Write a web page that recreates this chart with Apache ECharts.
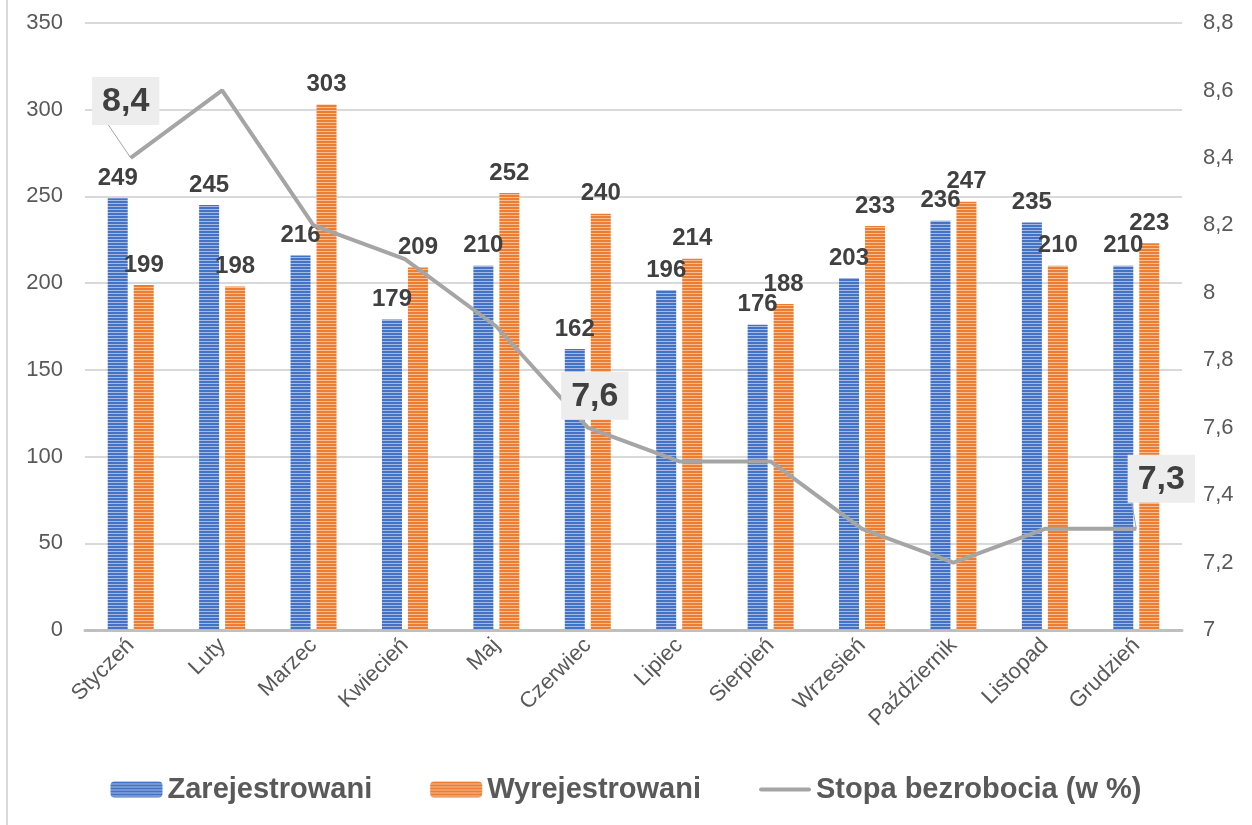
<!DOCTYPE html>
<html>
<head>
<meta charset="utf-8">
<script src="https://cdn.jsdelivr.net/npm/echarts@6/dist/echarts.min.js"></script>
<style>
  html, body { margin: 0; padding: 0; background: #fff; }
  #main { width: 1252px; height: 825px; }
  #edge { position: absolute; left: 6px; top: 0; width: 2px; height: 825px; background: #D9D9D9; }
</style>
</head>
<body>
<div id="edge"></div>
<div id="main"></div>
<script>
// miesiace
const months = ['Styczeń', 'Luty', 'Marzec', 'Kwiecień', 'Maj', 'Czerwiec',
  'Lipiec', 'Sierpień', 'Wrzesień', 'Październik', 'Listopad', 'Grudzień'];
const registered = [249, 245, 216, 179, 210, 162, 196, 176, 203, 236, 235, 210];
const deregistered = [199, 198, 303, 209, 252, 240, 214, 188, 233, 247, 210, 223];
const unemployment = [8.4, 8.6, 8.2, 8.1, 7.9, 7.6, 7.5, 7.5, 7.3, 7.2, 7.3, 7.3];
// which points of the line get a callout, and where it sits
const callouts = { 0: [-5, -28], 5: [7, -3], 11: [25, -21] };

const comma = v => String(v).replace('.', ',');

function stripes (dark, light) {
    const c = document.createElement('canvas');
    c.width = 4;
    c.height = 3;
    const ctx = c.getContext('2d');
    ctx.fillStyle = light;
    ctx.fillRect(0, 0, 4, 3);
    ctx.fillStyle = dark;
    ctx.fillRect(0, 0, 4, 2);
    return { image: c, repeat: 'repeat' };
}

const blue = stripes('#4472C4', '#A3BAE6');
const orange = stripes('#ED7D31', '#F7BE96');

// thick gray bar in the middle of a 52x16 box
const lineIcon = 'path://M0,0L0.01,0Z M2,6L50,6A2,2,0,0,1,50,10L2,10A2,2,0,0,1,2,6Z M52,16L51.99,16Z';

const barLabel = {
    show: true,
    position: 'top',
    distance: 8,
    fontSize: 24,
    fontWeight: 'bold',
    color: '#404040',
    fontFamily: 'Liberation Sans'
};

const option = {
    textStyle: { fontFamily: 'Liberation Sans' },
    grid: { left: 85, right: 70, top: 23, bottom: 195 },
    legend: {
        bottom: 16,
        left: 'center',
        itemWidth: 52,
        itemHeight: 16,
        itemGap: 58,
        textStyle: { fontSize: 29, fontWeight: 'bold', color: '#595959' },
        data: [
            'Zarejestrowani',
            'Wyrejestrowani',
            { name: 'Stopa bezrobocia (w %)', icon: lineIcon, itemStyle: { color: '#A5A5A5' } }
        ]
    },
    xAxis: {
        type: 'category',
        data: months,
        axisTick: { show: false },
        axisLine: { lineStyle: { color: '#BFBFBF', width: 3 } },
        axisLabel: { rotate: 45, fontSize: 22, color: '#595959', margin: 12, interval: 0 }
    },
    yAxis: [
        {
            type: 'value',
            min: 0,
            max: 350,
            interval: 50,
            axisLabel: { fontSize: 22, color: '#595959', margin: 22 },
            splitLine: { lineStyle: { color: '#D9D9D9', width: 2 } }
        },
        {
            type: 'value',
            min: 7,
            max: 8.8,
            interval: 0.2,
            axisLabel: { fontSize: 22, color: '#595959', margin: 21, formatter: comma },
            splitLine: { show: false }
        }
    ],
    series: [
        {
            name: 'Zarejestrowani',
            type: 'bar',
            data: registered,
            barWidth: 20,
            barGap: '30%',
            itemStyle: { color: blue },
            label: barLabel
        },
        {
            name: 'Wyrejestrowani',
            type: 'bar',
            data: deregistered,
            barWidth: 20,
            itemStyle: { color: orange },
            label: barLabel
        },
        {
            name: 'Stopa bezrobocia (w %)',
            type: 'line',
            yAxisIndex: 1,
            symbol: 'circle',
            symbolSize: 0,
            z: 5,
            lineStyle: { color: '#A5A5A5', width: 4 },
            itemStyle: { color: '#A5A5A5' },
            label: {
                show: false,
                position: 'top',
                formatter: p => comma(p.value),
                fontSize: 34,
                fontWeight: 'bold',
                color: '#404040',
                backgroundColor: '#EDEDED',
                padding: [8, 10, 6, 10]
            },
            data: unemployment.map((v, i) => ({
                value: v,
                label: { show: i in callouts }
            })),
            labelLine: { show: true, lineStyle: { color: '#A5A5A5', width: 1 } },
            labelLayout: params => {
                const c = callouts[params.dataIndex];
                return c ? { dx: c[0], dy: c[1] } : {};
            }
        }
    ]
};

const chart = echarts.init(document.getElementById('main'));
chart.setOption(option);
</script>
</body>
</html>
